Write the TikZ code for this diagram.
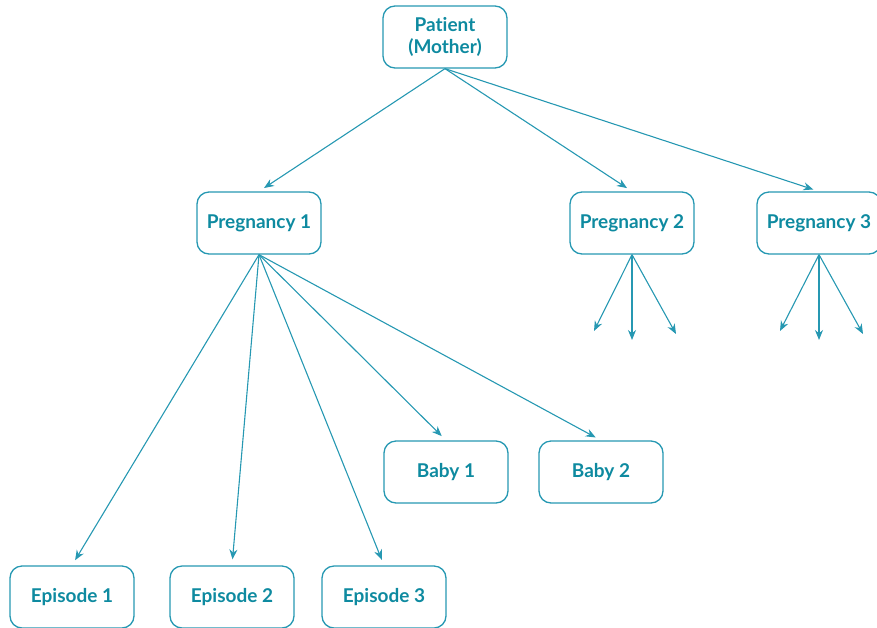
\documentclass[tikz,border=0pt]{standalone}
\usepackage{fontspec}
\setmainfont[Ligatures=NoCommon]{Lato}
\usetikzlibrary{arrows.meta, positioning}
\definecolor{tealtext}{RGB}{14,138,160}
\definecolor{tealline}{RGB}{38,152,178}
\tikzset{
  entity/.style={draw=tealline, line width=1.3pt, rounded corners=12pt,
    minimum width=124pt, minimum height=62pt, align=center,
    text=tealtext, font=\fontsize{19}{22}\selectfont\bfseries},
  link/.style={draw=tealline, line width=1.1pt, -{Stealth[length=10pt,width=8pt]}, shorten >=6pt},
  stub/.style={draw=tealline, line width=1.1pt, -{Stealth[length=10pt,width=8pt]}}
}
\begin{document}
\begin{tikzpicture}[x=1pt, y=-1pt]
  \useasboundingbox (0,0) rectangle (877,627);
  % Patient at the top
  \node[entity] (patient) at (445,37) {Patient\\(Mother)};
  % Pregnancies
  \node[entity] (preg1) at (259,223) {Pregnancy 1};
  \node[entity] (preg2) at (632,223) {Pregnancy 2};
  \node[entity] (preg3) at (819,223) {Pregnancy 3};
  % Episodes and babies of pregnancy 1
  \node[entity] (ep1) at (72,597) {Episode 1};
  \node[entity] (ep2) at (232,597) {Episode 2};
  \node[entity] (ep3) at (384,597) {Episode 3};
  \node[entity] (baby1) at (446,472) {Baby 1};
  \node[entity] (baby2) at (601,472) {Baby 2};
  % Open ends below pregnancies 2 and 3
  \coordinate (p2a) at (594,331);
  \coordinate (p2b) at (632,340);
  \coordinate (p2c) at (676,334);
  \coordinate (p3a) at (780,331);
  \coordinate (p3b) at (819,340);
  \coordinate (p3c) at (863,334);
  % Connectors
  \foreach \t in {preg1, preg2, preg3}
    \draw[link] (patient.south) -- (\t.north);
  \foreach \t in {ep1, ep2, ep3, baby1, baby2}
    \draw[link] (preg1.south) -- (\t.north);
  \foreach \t in {p2a, p2b, p2c}
    \draw[stub] (preg2.south) -- (\t);
  \foreach \t in {p3a, p3b, p3c}
    \draw[stub] (preg3.south) -- (\t);
\end{tikzpicture}
\end{document}
